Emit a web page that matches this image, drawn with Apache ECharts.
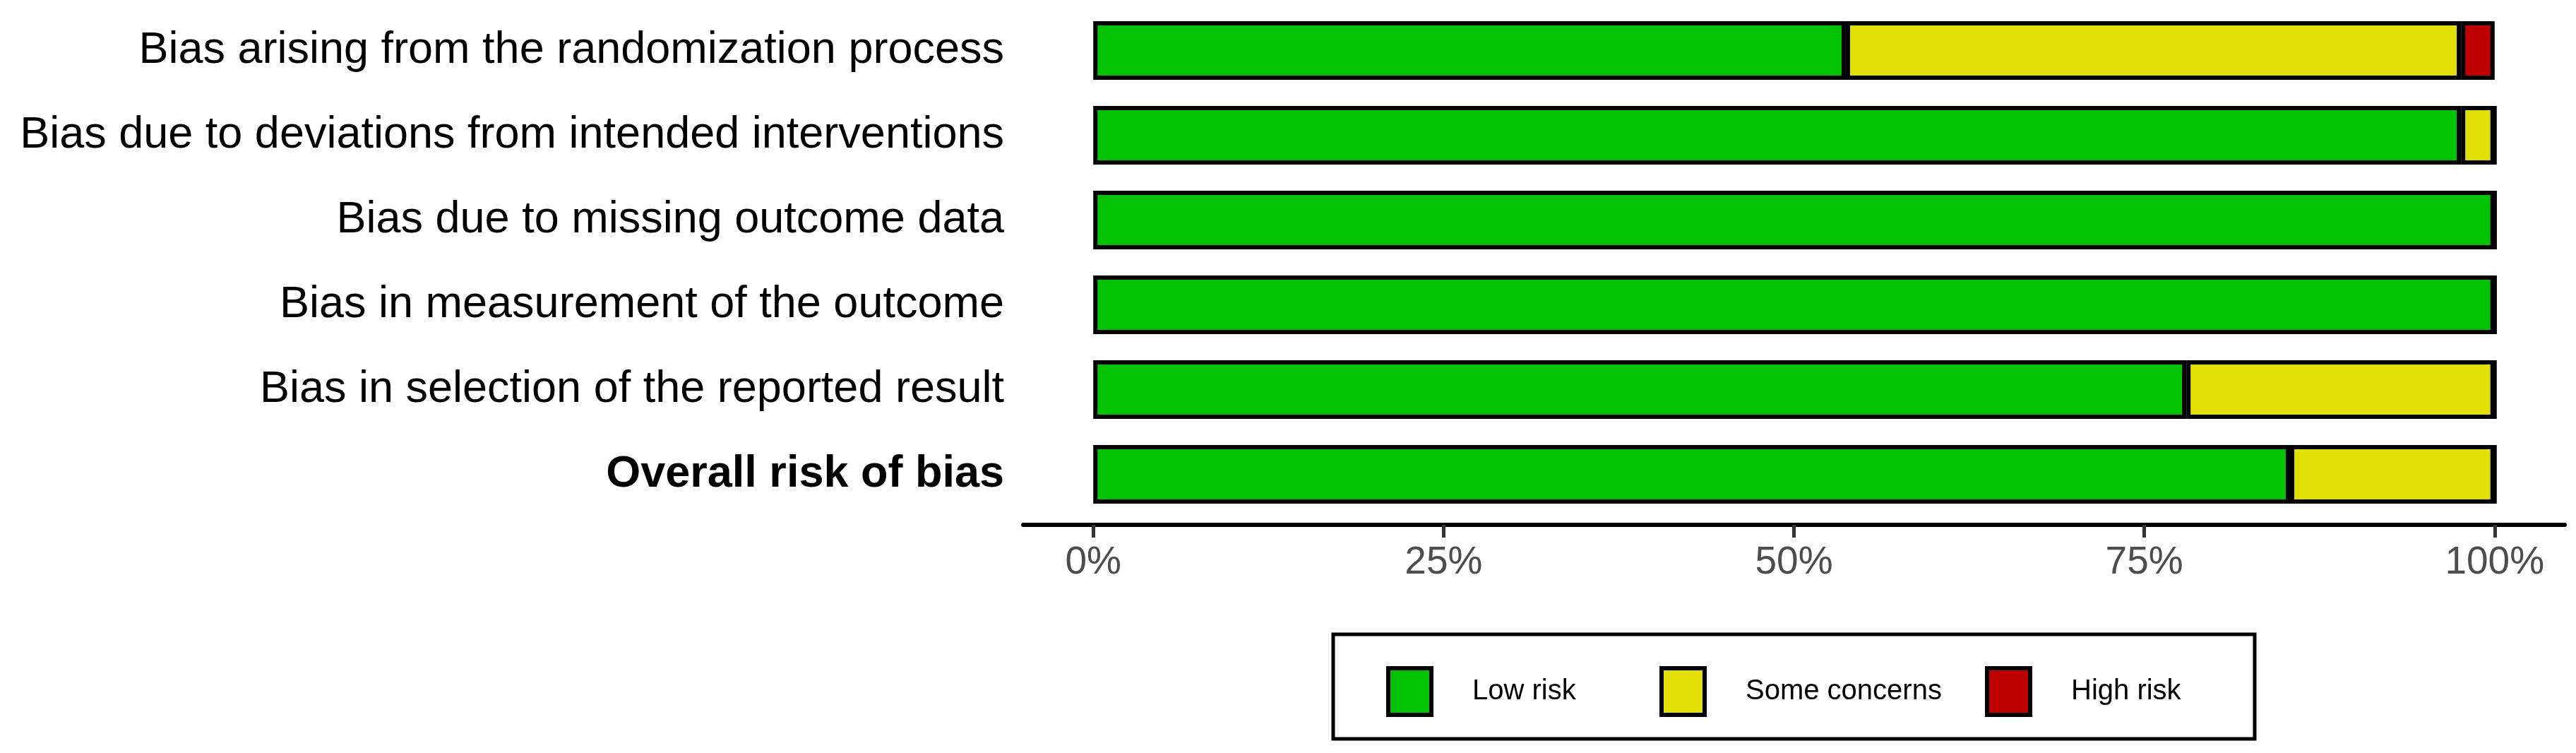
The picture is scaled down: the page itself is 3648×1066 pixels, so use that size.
<!DOCTYPE html>
<html>
<head>
<meta charset="utf-8">
<title>Risk of bias summary</title>
<script src="https://cdn.jsdelivr.net/npm/echarts@6/dist/echarts.min.js"></script>
<style>
  html, body { margin: 0; padding: 0; background: #fff; }
  #chart { width: 3648px; height: 1066px; }
</style>
</head>
<body>
<div id="chart"></div>
<script>
// Dominios de sesgo (de arriba hacia abajo)
const domains = [
    'Bias arising from the randomization process',
    'Bias due to deviations from intended interventions',
    'Bias due to missing outcome data',
    'Bias in measurement of the outcome',
    'Bias in selection of the reported result',
    'Overall risk of bias'
];

// Porcentajes
const lowRisk = [53.7, 97.6, 100, 100, 78.0, 85.4];
const someConcerns = [43.9, 2.4, 0, 0, 22.0, 14.6];
const highRisk = [2.4, 0, 0, 0, 0, 0];

const tickValues = [0, 25, 50, 75, 100];

const colors = {
    low: '#02C100',
    some: '#E2DF07',
    high: '#BF0000'
};

const fontFamily = '"Liberation Sans", Arial, Helvetica, sans-serif';

const chart = echarts.init(document.getElementById('chart'));

function barSeries(name, data, color) {
    return {
        name: name,
        type: 'bar',
        stack: 'total',
        data: data,
        barWidth: 83,
        itemStyle: {
            color: color,
            borderColor: '#000',
            borderWidth: 6
        },
        emphasis: { disabled: true },
        animation: false
    };
}

function legendFor(name, left) {
    return {
        data: [name],
        left: left,
        top: 943,
        padding: 0,
        icon: 'rect',
        itemWidth: 61,
        itemHeight: 66,
        selectedMode: false,
        itemStyle: { borderColor: '#000', borderWidth: 6 },
        textStyle: {
            fontSize: 40,
            color: '#000',
            fontFamily: fontFamily,
            padding: [0, 0, 0, 53]
        }
    };
}

const options = {
    backgroundColor: '#fff',
    animation: false,
    grid: {
        left: 1449,
        right: 16,
        top: 11.5,
        bottom: 334.5
    },
    xAxis: {
        type: 'value',
        min: -5,
        max: 105,
        offset: 11.5,
        axisLine: { show: true, lineStyle: { color: '#000', width: 6 } },
        axisTick: {
            show: true,
            customValues: tickValues,
            length: 18,
            lineStyle: { color: '#333', width: 5 }
        },
        axisLabel: {
            customValues: tickValues,
            formatter: '{value}%',
            fontSize: 55,
            color: '#4D4D4D',
            fontFamily: fontFamily,
            margin: 26
        },
        splitLine: { show: false }
    },
    yAxis: {
        type: 'category',
        data: domains,
        inverse: true,
        axisLine: { show: false },
        axisTick: { show: false },
        axisLabel: {
            fontSize: 63,
            color: '#000',
            fontFamily: fontFamily,
            margin: 27,
            formatter: (value) => value === 'Overall risk of bias' ? '{b|' + value + '}' : value,
            rich: {
                b: { fontSize: 63, fontWeight: 'bold', color: '#000', fontFamily: fontFamily }
            }
        }
    },
    legend: [
        legendFor('Low risk', 1963),
        legendFor('Some concerns', 2350),
        legendFor('High risk', 2811)
    ],
    graphic: [{
        type: 'rect',
        shape: { x: 1888, y: 898, width: 1305, height: 148 },
        style: { fill: 'none', stroke: '#000', lineWidth: 5 },
        silent: true
    }],
    series: [
        barSeries('Low risk', lowRisk, colors.low),
        barSeries('Some concerns', someConcerns, colors.some),
        barSeries('High risk', highRisk, colors.high)
    ]
};

chart.setOption(options);
</script>
</body>
</html>
